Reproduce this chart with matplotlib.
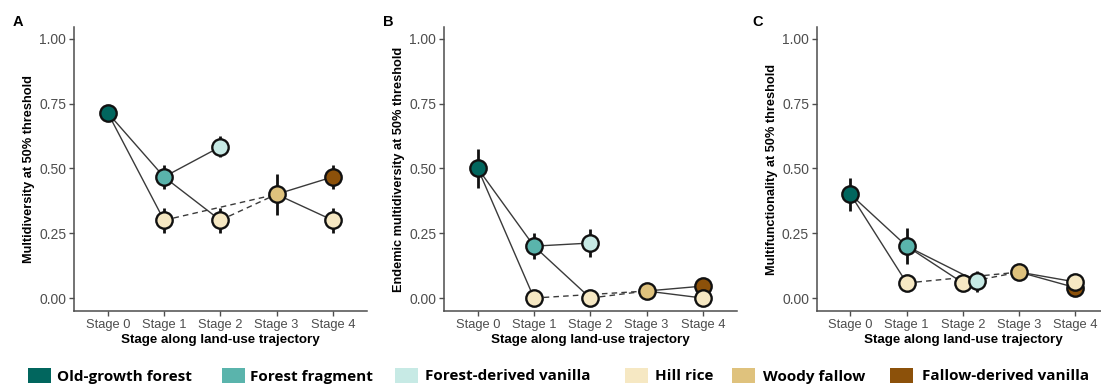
import matplotlib
matplotlib.use("Agg")
import matplotlib.pyplot as plt
from matplotlib.patches import Rectangle

W, H = 1101, 385
fig = plt.figure(figsize=(W / 100, H / 100), dpi=100)
plt.rcParams["font.family"] = ["Liberation Sans", "DejaVu Sans"]

stage_labels = ["Stage 0", "Stage 1", "Stage 2", "Stage 3", "Stage 4"]
land_uses = ["Old-growth forest", "Forest fragment", "Forest-derived vanilla",
             "Hill rice", "Woody fallow", "Fallow-derived vanilla"]
use_colors = ["#01665e", "#5ab4ac", "#c7eae5", "#f6e8c3", "#dfc27d", "#8c510a"]

# One point per land use along the trajectory
point_stage = [0, 1, 2, 1, 2, 3, 4, 4]
point_use = ["Old-growth forest", "Forest fragment", "Forest-derived vanilla",
             "Hill rice", "Hill rice", "Woody fallow",
             "Fallow-derived vanilla", "Hill rice"]

multidiv_mean = [0.714, 0.467, 0.583, 0.30, 0.30, 0.40, 0.467, 0.30]
multidiv_se = [0.01, 0.045, 0.04, 0.048, 0.048, 0.08, 0.045, 0.048]

endemic_mean = [0.50, 0.20, 0.212, 0.0, 0.0, 0.027, 0.046, 0.0]
endemic_se = [0.074, 0.05, 0.055, 0.0, 0.0, 0.008, 0.008, 0.0]

multifunc_mean = [0.40, 0.20, 0.064, 0.058, 0.058, 0.10, 0.04, 0.062]
multifunc_se = [0.064, 0.07, 0.042, 0.0, 0.0, 0.02, 0.01, 0.0]

# Transitions between points (indices into the point lists)
links_solid = [(0, 1), (0, 3), (1, 2), (1, 4), (5, 6), (5, 7)]
links_dashed = [(3, 5), (4, 5)]

# Draw order so overlapping markers stack sensibly
draw_order = [6, 5, 3, 4, 7, 2, 1, 0]

panels = [
    ("A", "Multidiversity at 50% threshold", multidiv_mean, multidiv_se, {}),
    ("B", "Endemic multidiversity at 50% threshold", endemic_mean, endemic_se, {}),
    ("C", "Multifunctionality at 50% threshold", multifunc_mean, multifunc_se, {2: 0.25}),
]

axes_left_px = [74, 444, 816.7]
axes_top_px = 27
axes_w_px = 292.5
axes_h_px = 284
letter_x_px = [18, 388, 758]

spine_col = "#4d4d4d"
color_of = dict(zip(land_uses, use_colors))

for (letter, ylabel, means, ses, dodge), lpx, letx in zip(panels, axes_left_px, letter_x_px):
    ax = fig.add_axes([lpx / W, 1 - (axes_top_px + axes_h_px) / H,
                       axes_w_px / W, axes_h_px / H])
    xs = [s + dodge.get(i, 0.0) for i, s in enumerate(point_stage)]

    for a, b in links_solid:
        ax.plot([xs[a], xs[b]], [means[a], means[b]], color="#3a3a3a",
                lw=1.0, ls="-", zorder=1, solid_capstyle="butt")
    for a, b in links_dashed:
        ax.plot([xs[a], xs[b]], [means[a], means[b]], color="#3a3a3a",
                lw=1.0, ls=(0, (4, 3)), zorder=1)

    for i in draw_order:
        if ses[i] > 0:
            ax.plot([xs[i], xs[i]], [means[i] - ses[i], means[i] + ses[i]],
                    color="#111111", lw=2.0, zorder=2, solid_capstyle="butt")
        ax.plot(xs[i], means[i], "o", ms=11.8, mfc=color_of[point_use[i]],
                mec="#111111", mew=1.7, zorder=3 + draw_order.index(i))

    ax.set_xlim(-0.6, 4.6)
    ax.set_ylim(-0.05, 1.045)
    ax.set_xticks(range(len(stage_labels)))
    ax.set_xticklabels(stage_labels)
    ax.set_yticks([0, 0.25, 0.5, 0.75, 1.0])
    ax.set_yticklabels(["0.00", "0.25", "0.50", "0.75", "1.00"])
    for side in ("top", "right"):
        ax.spines[side].set_visible(False)
    for side in ("left", "bottom"):
        ax.spines[side].set_color(spine_col)
        ax.spines[side].set_linewidth(1.1)
    ax.tick_params(axis="both", colors=spine_col, length=3.5, width=1.0,
                   labelsize=9.3, labelcolor="#4d4d4d", pad=2.0)
    ax.tick_params(axis="y", labelsize=10)

    ax.set_ylabel(ylabel, fontsize=9.2, fontweight="bold", color="black")
    ax.yaxis.set_label_coords((29 - 74) / axes_w_px, 0.5)
    ax.yaxis.label.set_va("center")
    ax.set_xlabel("Stage along land-use trajectory", fontsize=9.6,
                  fontweight="bold", color="black")
    ax.xaxis.set_label_coords(0.5, (311 - 339.5) / axes_h_px)
    ax.xaxis.label.set_va("center")

    fig.text(letx / W, 1 - 22 / H, letter, fontsize=10.5, fontweight="bold",
             ha="center", va="center")

# Legend row along the bottom
key_x_px = [28, 222, 395, 625, 732, 890]
text_x_px = [57, 250, 425, 655, 763, 922]
key_w, key_h, key_y = 23, 15, 368
text_baseline = 380.5
for name, col, kx, tx in zip(land_uses, use_colors, key_x_px, text_x_px):
    fig.patches.append(Rectangle((kx / W, 1 - (key_y + key_h) / H), key_w / W,
                                 key_h / H, transform=fig.transFigure,
                                 facecolor=col, edgecolor="none"))
    fig.text(tx / W, 1 - text_baseline / H, name, fontsize=11,
             fontweight="bold", family=["Open Sans", "DejaVu Sans"],
             ha="left", va="baseline")

fig.savefig("out.png", dpi=100)
